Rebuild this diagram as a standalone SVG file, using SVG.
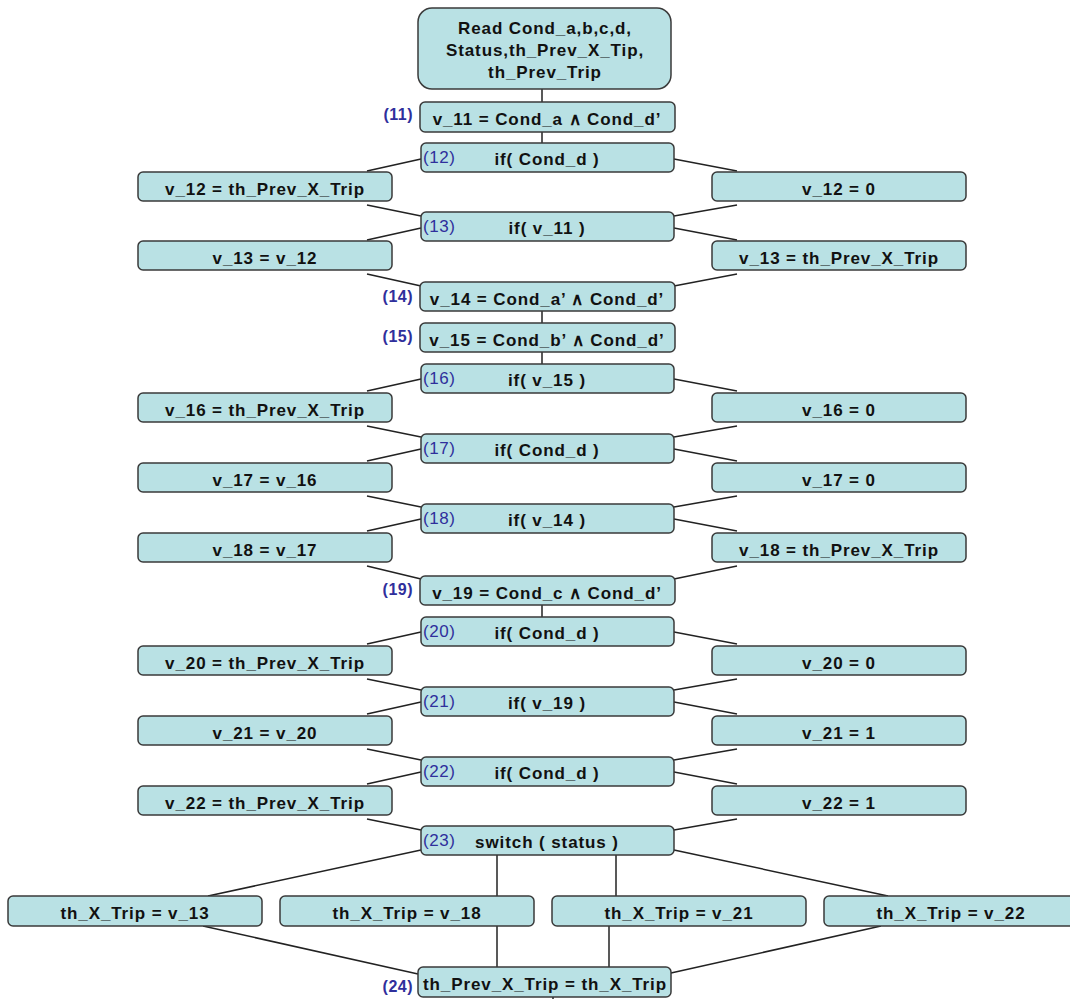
<svg xmlns="http://www.w3.org/2000/svg" width="1070" height="999" viewBox="0 0 1070 999">
<style>
.box{fill:#b9e1e4;stroke:#3a3a3a;stroke-width:1.5}
.t{font-family:"Liberation Sans",Arial,sans-serif;font-weight:bold;font-size:17px;letter-spacing:0.9px;text-anchor:middle;fill:#111}
.li{font-family:"Liberation Sans",Arial,sans-serif;font-size:17px;letter-spacing:0.6px;fill:#2f2f9c}
.lo{font-family:"Liberation Sans",Arial,sans-serif;font-weight:bold;font-size:16px;letter-spacing:0.5px;text-anchor:end;fill:#2f2f9c}
.c{stroke:#222;stroke-width:1.5;fill:none}
</style>
<rect width="1070" height="999" fill="#fff"/>
<g id="connectors">
<line class="c" x1="542" y1="89" x2="542" y2="102"/>
<line class="c" x1="542" y1="132" x2="542" y2="143"/>
<line class="c" x1="421" y1="159" x2="367" y2="171"/>
<line class="c" x1="674" y1="159" x2="737" y2="171"/>
<line class="c" x1="367" y1="205" x2="421" y2="216"/>
<line class="c" x1="737" y1="205" x2="674" y2="216"/>
<line class="c" x1="421" y1="228" x2="367" y2="240"/>
<line class="c" x1="674" y1="228" x2="737" y2="240"/>
<line class="c" x1="367" y1="274" x2="421" y2="286"/>
<line class="c" x1="737" y1="274" x2="674" y2="286"/>
<line class="c" x1="542" y1="311" x2="542" y2="323"/>
<line class="c" x1="542" y1="352" x2="542" y2="364"/>
<line class="c" x1="421" y1="379" x2="367" y2="391"/>
<line class="c" x1="674" y1="379" x2="737" y2="391"/>
<line class="c" x1="367" y1="426" x2="421" y2="437"/>
<line class="c" x1="737" y1="426" x2="674" y2="437"/>
<line class="c" x1="421" y1="449" x2="367" y2="461"/>
<line class="c" x1="674" y1="449" x2="737" y2="461"/>
<line class="c" x1="367" y1="496" x2="421" y2="507"/>
<line class="c" x1="737" y1="496" x2="674" y2="507"/>
<line class="c" x1="421" y1="519" x2="367" y2="531"/>
<line class="c" x1="674" y1="519" x2="737" y2="531"/>
<line class="c" x1="367" y1="566" x2="421" y2="579"/>
<line class="c" x1="737" y1="566" x2="674" y2="579"/>
<line class="c" x1="542" y1="605" x2="542" y2="617"/>
<line class="c" x1="421" y1="632" x2="367" y2="644"/>
<line class="c" x1="674" y1="632" x2="737" y2="644"/>
<line class="c" x1="367" y1="679" x2="421" y2="690"/>
<line class="c" x1="737" y1="679" x2="674" y2="690"/>
<line class="c" x1="421" y1="702" x2="367" y2="714"/>
<line class="c" x1="674" y1="702" x2="737" y2="714"/>
<line class="c" x1="367" y1="749" x2="421" y2="760"/>
<line class="c" x1="737" y1="749" x2="674" y2="760"/>
<line class="c" x1="421" y1="772" x2="367" y2="784"/>
<line class="c" x1="674" y1="772" x2="737" y2="784"/>
<line class="c" x1="367" y1="819" x2="421" y2="830"/>
<line class="c" x1="737" y1="819" x2="674" y2="830"/>
<line class="c" x1="421" y1="850" x2="208" y2="896"/>
<line class="c" x1="674" y1="850" x2="888" y2="896"/>
<line class="c" x1="497" y1="855" x2="497" y2="896"/>
<line class="c" x1="616" y1="855" x2="616" y2="896"/>
<line class="c" x1="203" y1="926" x2="418" y2="974"/>
<line class="c" x1="497" y1="926" x2="497" y2="967"/>
<line class="c" x1="609" y1="926" x2="609" y2="967"/>
<line class="c" x1="881" y1="926" x2="671" y2="973"/>
<line class="c" x1="553" y1="997" x2="553" y2="999"/>
</g>
<g id="n0"><rect class="box" x="418" y="8" width="253" height="81" rx="14"/>
<text class="t" x="545" y="34">Read Cond_a,b,c,d,</text>
<text class="t" x="545" y="56">Status,th_Prev_X_Tip,</text>
<text class="t" x="545" y="78">th_Prev_Trip</text></g>
<g id="n11"><rect class="box" x="420" y="102" width="255" height="30" rx="5"/>
<text class="t" x="547" y="125">v_11 = Cond_a ∧ Cond_d’</text><text class="lo" x="413" y="120">(11)</text></g>
<g id="n12"><rect class="box" x="421" y="143" width="253" height="29" rx="5"/>
<text class="t" x="547" y="165">if( Cond_d )</text><text class="li" x="423" y="163">(12)</text></g>
<g id="n12L"><rect class="box" x="138" y="172" width="254" height="29" rx="5"/><text class="t" x="265" y="195">v_12 = th_Prev_X_Trip</text></g>
<g id="n12R"><rect class="box" x="712" y="172" width="254" height="29" rx="5"/><text class="t" x="839" y="195">v_12 = 0</text></g>
<g id="n13"><rect class="box" x="421" y="212" width="253" height="29" rx="5"/>
<text class="t" x="547" y="234">if( v_11 )</text><text class="li" x="423" y="232">(13)</text></g>
<g id="n13L"><rect class="box" x="138" y="241" width="254" height="29" rx="5"/><text class="t" x="265" y="264">v_13 = v_12</text></g>
<g id="n13R"><rect class="box" x="712" y="241" width="254" height="29" rx="5"/><text class="t" x="839" y="264">v_13 = th_Prev_X_Trip</text></g>
<g id="n14"><rect class="box" x="420" y="282" width="255" height="29" rx="5"/>
<text class="t" x="547" y="305">v_14 = Cond_a’ ∧ Cond_d’</text><text class="lo" x="413" y="302">(14)</text></g>
<g id="n15"><rect class="box" x="420" y="323" width="255" height="29" rx="5"/>
<text class="t" x="547" y="346">v_15 = Cond_b’ ∧ Cond_d’</text><text class="lo" x="413" y="342">(15)</text></g>
<g id="n16"><rect class="box" x="421" y="364" width="253" height="29" rx="5"/>
<text class="t" x="547" y="386">if( v_15 )</text><text class="li" x="423" y="384">(16)</text></g>
<g id="n16L"><rect class="box" x="138" y="393" width="254" height="29" rx="5"/><text class="t" x="265" y="416">v_16 = th_Prev_X_Trip</text></g>
<g id="n16R"><rect class="box" x="712" y="393" width="254" height="29" rx="5"/><text class="t" x="839" y="416">v_16 = 0</text></g>
<g id="n17"><rect class="box" x="421" y="434" width="253" height="29" rx="5"/>
<text class="t" x="547" y="456">if( Cond_d )</text><text class="li" x="423" y="454">(17)</text></g>
<g id="n17L"><rect class="box" x="138" y="463" width="254" height="29" rx="5"/><text class="t" x="265" y="486">v_17 = v_16</text></g>
<g id="n17R"><rect class="box" x="712" y="463" width="254" height="29" rx="5"/><text class="t" x="839" y="486">v_17 = 0</text></g>
<g id="n18"><rect class="box" x="421" y="504" width="253" height="29" rx="5"/>
<text class="t" x="547" y="526">if( v_14 )</text><text class="li" x="423" y="524">(18)</text></g>
<g id="n18L"><rect class="box" x="138" y="533" width="254" height="29" rx="5"/><text class="t" x="265" y="556">v_18 = v_17</text></g>
<g id="n18R"><rect class="box" x="712" y="533" width="254" height="29" rx="5"/><text class="t" x="839" y="556">v_18 = th_Prev_X_Trip</text></g>
<g id="n19"><rect class="box" x="420" y="576" width="255" height="29" rx="5"/>
<text class="t" x="547" y="599">v_19 = Cond_c ∧ Cond_d’</text><text class="lo" x="413" y="595">(19)</text></g>
<g id="n20"><rect class="box" x="421" y="617" width="253" height="29" rx="5"/>
<text class="t" x="547" y="639">if( Cond_d )</text><text class="li" x="423" y="637">(20)</text></g>
<g id="n20L"><rect class="box" x="138" y="646" width="254" height="29" rx="5"/><text class="t" x="265" y="669">v_20 = th_Prev_X_Trip</text></g>
<g id="n20R"><rect class="box" x="712" y="646" width="254" height="29" rx="5"/><text class="t" x="839" y="669">v_20 = 0</text></g>
<g id="n21"><rect class="box" x="421" y="687" width="253" height="29" rx="5"/>
<text class="t" x="547" y="709">if( v_19 )</text><text class="li" x="423" y="707">(21)</text></g>
<g id="n21L"><rect class="box" x="138" y="716" width="254" height="29" rx="5"/><text class="t" x="265" y="739">v_21 = v_20</text></g>
<g id="n21R"><rect class="box" x="712" y="716" width="254" height="29" rx="5"/><text class="t" x="839" y="739">v_21 = 1</text></g>
<g id="n22"><rect class="box" x="421" y="757" width="253" height="29" rx="5"/>
<text class="t" x="547" y="779">if( Cond_d )</text><text class="li" x="423" y="777">(22)</text></g>
<g id="n22L"><rect class="box" x="138" y="786" width="254" height="29" rx="5"/><text class="t" x="265" y="809">v_22 = th_Prev_X_Trip</text></g>
<g id="n22R"><rect class="box" x="712" y="786" width="254" height="29" rx="5"/><text class="t" x="839" y="809">v_22 = 1</text></g>
<g id="n23"><rect class="box" x="421" y="826" width="253" height="29" rx="5"/>
<text class="t" x="547" y="848">switch ( status )</text><text class="li" x="423" y="846">(23)</text></g>
<g id="b13"><rect class="box" x="8" y="896" width="254" height="30" rx="5"/><text class="t" x="135" y="919">th_X_Trip = v_13</text></g>
<g id="b18"><rect class="box" x="280" y="896" width="254" height="30" rx="5"/><text class="t" x="407" y="919">th_X_Trip = v_18</text></g>
<g id="b21"><rect class="box" x="552" y="896" width="254" height="30" rx="5"/><text class="t" x="679" y="919">th_X_Trip = v_21</text></g>
<g id="b22"><rect class="box" x="824" y="896" width="254" height="30" rx="5"/><text class="t" x="951" y="919">th_X_Trip = v_22</text></g>
<g id="n24"><rect class="box" x="418" y="967" width="253" height="30" rx="5"/>
<text class="t" x="545" y="990">th_Prev_X_Trip = th_X_Trip</text><text class="lo" x="413" y="992">(24)</text></g>
</svg>
